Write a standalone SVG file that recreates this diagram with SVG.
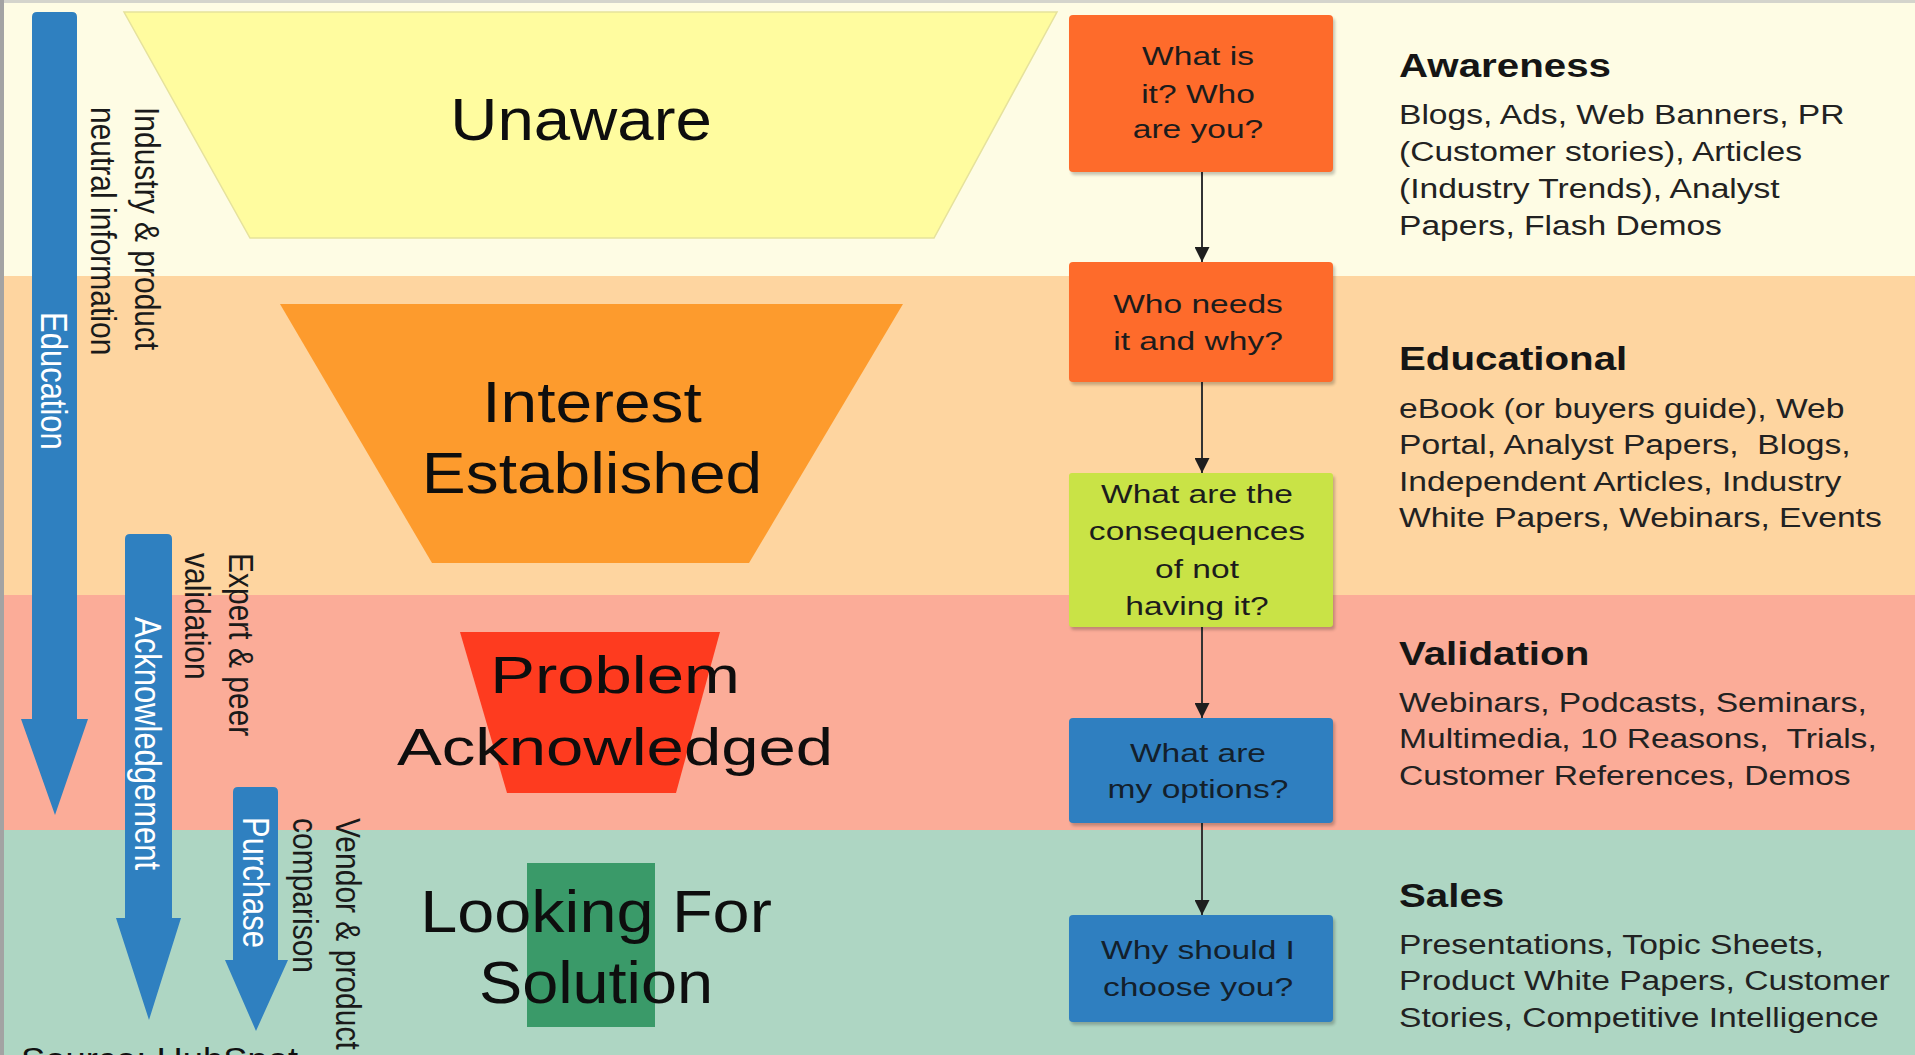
<svg xmlns="http://www.w3.org/2000/svg" width="1915" height="1055" viewBox="0 0 1915 1055">
  <defs>
    <style>
      text { font-family: "Liberation Sans", Arial, sans-serif; }
      .stage { fill: #0e0e0e; text-anchor: middle; }
      .q { font-size: 25.6px; fill: #1c1c1c; text-anchor: middle; }
      .qb { font-size: 25.6px; fill: #13202c; text-anchor: middle; }
      .head { font-size: 32.5px; font-weight: bold; fill: #151515; }
      .body { font-size: 28px; fill: #222222; }
      .side { font-size: 30px; fill: #1a1a1a; }
      .flow { font-size: 31px; fill: #ffffff; }
      .box { stroke: none; }
      .shadow { fill: #000000; opacity: 0.22; filter: url(#soft); }
      .conn { stroke: #333333; stroke-width: 2; fill: none; marker-end: url(#tip); }
      .bigarrow { fill: #2F80C0; }
    </style>
    <filter id="soft" x="-10%" y="-10%" width="120%" height="130%">
      <feGaussianBlur stdDeviation="1.5"/>
    </filter>
    <marker id="tip" viewBox="0 0 15 15" refX="15" refY="7.5" markerWidth="15" markerHeight="15" markerUnits="userSpaceOnUse" orient="auto">
      <path d="M0,0 L15,7.5 L0,15 Z" fill="#1e1e1e"/>
    </marker>
  </defs>

  <!-- stage bands -->
  <g id="bands">
    <rect x="0" y="0" width="1915" height="276" fill="#FEFCE4"/>
    <rect x="0" y="276" width="1915" height="319" fill="#FED5A0"/>
    <rect x="0" y="595" width="1915" height="235" fill="#FBAC98"/>
    <rect x="0" y="830" width="1915" height="225" fill="#AED6C3"/>
    <rect x="0" y="0" width="1915" height="3" fill="#D4D4CC"/>
    <rect x="0" y="0" width="4" height="1055" fill="#A3A3A3"/>
  </g>

  <!-- funnel stages -->
  <g id="stage-unaware">
    <polygon points="124,12 1057,12 934,238 250,238" fill="#FFFC9F" stroke="#E6E29C" stroke-width="1.5"/>
    <text class="stage" font-size="60" transform="translate(581,140) scale(1.09,1)">Unaware</text>
  </g>
  <g id="stage-interest">
    <polygon points="280,304 903,304 749,563 432,563" fill="#FD9B2D"/>
    <text class="stage" font-size="57" transform="translate(592,422) scale(1.155,1)">Interest</text>
    <text class="stage" font-size="57" transform="translate(592,493) scale(1.155,1)">Established</text>
  </g>
  <g id="stage-problem">
    <polygon points="460,632 720,632 676,793 507,793" fill="#FE3B1F"/>
    <text class="stage" font-size="52" transform="translate(615,693) scale(1.29,1)">Problem</text>
    <text class="stage" font-size="52" transform="translate(615,765) scale(1.29,1)">Acknowledged</text>
  </g>
  <g id="stage-looking">
    <rect x="527" y="863" width="128" height="164" fill="#3A9A69"/>
    <text class="stage" font-size="60" transform="translate(596,932) scale(1.11,1)">Looking For</text>
    <text class="stage" font-size="60" transform="translate(596,1003) scale(1.08,1)">Solution</text>
  </g>

  <!-- left-hand flow arrows -->
  <g id="flow-education">
    <path class="bigarrow" d="M32,17 Q32,12 37,12 L72,12 Q77,12 77,17 L77,719 L88,719 L55,815 L21,719 L32,719 Z"/>
    <text class="flow" transform="translate(41,312) scale(1.22,1) rotate(90)">Education</text>
  </g>
  <g id="flow-acknowledgement">
    <path class="bigarrow" d="M125,539 Q125,534 130,534 L167,534 Q172,534 172,539 L172,918 L181,918 L149,1020 L116,918 L125,918 Z"/>
    <text class="flow" transform="translate(135,617) scale(1.22,1) rotate(90)">Acknowledgement</text>
  </g>
  <g id="flow-purchase">
    <path class="bigarrow" d="M233,792 Q233,787 238,787 L273,787 Q278,787 278,792 L278,960 L288,960 L256,1031 L225,960 L233,960 Z"/>
    <text class="flow" transform="translate(243,817) scale(1.22,1) rotate(90)">Purchase</text>
  </g>

  <!-- side notes -->
  <g id="note-industry">
    <text class="side" transform="translate(135,107) scale(1.18,1) rotate(90)">Industry &amp; product</text>
    <text class="side" transform="translate(91,107) scale(1.18,1) rotate(90)">neutral information</text>
  </g>
  <g id="note-expert">
    <text class="side" transform="translate(229,553) scale(1.18,1) rotate(90)">Expert &amp; peer</text>
    <text class="side" transform="translate(185,553) scale(1.18,1) rotate(90)">validation</text>
  </g>
  <g id="note-vendor">
    <text class="side" transform="translate(336,818) scale(1.18,1) rotate(90)">Vendor &amp; product</text>
    <text class="side" transform="translate(293,818) scale(1.18,1) rotate(90)">comparison</text>
  </g>

  <!-- connectors between questions -->
  <g id="connectors">
    <line class="conn" x1="1202" y1="172" x2="1202" y2="262"/>
    <line class="conn" x1="1202" y1="382" x2="1202" y2="473"/>
    <line class="conn" x1="1202" y1="627" x2="1202" y2="718"/>
    <line class="conn" x1="1202" y1="823" x2="1202" y2="915"/>
  </g>

  <!-- buyer questions -->
  <g id="q-what-is-it">
    <rect class="shadow" x="1071" y="18" width="264" height="157" rx="4"/>
    <rect class="box" x="1069" y="15" width="264" height="157" rx="4" fill="#FE6B2B"/>
    <text class="q" transform="translate(1198,65) scale(1.31,1)">What is</text>
    <text class="q" transform="translate(1198,103) scale(1.31,1)">it? Who</text>
    <text class="q" transform="translate(1198,138) scale(1.31,1)">are you?</text>
  </g>
  <g id="q-who-needs">
    <rect class="shadow" x="1071" y="265" width="264" height="120" rx="4"/>
    <rect class="box" x="1069" y="262" width="264" height="120" rx="4" fill="#FE6B2B"/>
    <text class="q" transform="translate(1198,313) scale(1.31,1)">Who needs</text>
    <text class="q" transform="translate(1198,350) scale(1.31,1)">it and why?</text>
  </g>
  <g id="q-consequences">
    <rect class="shadow" x="1071" y="476" width="264" height="154" rx="3"/>
    <rect class="box" x="1069" y="473" width="264" height="154" rx="3" fill="#C9E346"/>
    <text class="q" transform="translate(1197,503) scale(1.31,1)">What are the</text>
    <text class="q" transform="translate(1197,540) scale(1.31,1)">consequences</text>
    <text class="q" transform="translate(1197,578) scale(1.31,1)">of not</text>
    <text class="q" transform="translate(1197,615) scale(1.31,1)">having it?</text>
  </g>
  <g id="q-options">
    <rect class="shadow" x="1071" y="721" width="264" height="105" rx="4"/>
    <rect class="box" x="1069" y="718" width="264" height="105" rx="4" fill="#2F7FC0"/>
    <text class="qb" transform="translate(1198,762) scale(1.31,1)">What are</text>
    <text class="qb" transform="translate(1198,798) scale(1.31,1)">my options?</text>
  </g>
  <g id="q-choose-you">
    <rect class="shadow" x="1071" y="918" width="264" height="107" rx="4"/>
    <rect class="box" x="1069" y="915" width="264" height="107" rx="4" fill="#2F7FC0"/>
    <text class="qb" transform="translate(1198,959) scale(1.31,1)">Why should I</text>
    <text class="qb" transform="translate(1198,996) scale(1.31,1)">choose you?</text>
  </g>

  <!-- content types per stage -->
  <g id="content-awareness">
    <text class="head" transform="translate(1399,77) scale(1.24,1)">Awareness</text>
    <text class="body" transform="translate(1399,124) scale(1.2,1)">Blogs, Ads, Web Banners, PR</text>
    <text class="body" transform="translate(1399,161) scale(1.2,1)">(Customer stories), Articles</text>
    <text class="body" transform="translate(1399,198) scale(1.2,1)">(Industry Trends), Analyst</text>
    <text class="body" transform="translate(1399,235) scale(1.2,1)">Papers, Flash Demos</text>
  </g>
  <g id="content-educational">
    <text class="head" transform="translate(1399,370) scale(1.24,1)">Educational</text>
    <text class="body" transform="translate(1399,418) scale(1.2,1)">eBook (or buyers guide), Web</text>
    <text class="body" xml:space="preserve" transform="translate(1399,454) scale(1.2,1)">Portal, Analyst Papers,  Blogs,</text>
    <text class="body" transform="translate(1399,491) scale(1.2,1)">Independent Articles, Industry</text>
    <text class="body" transform="translate(1399,527) scale(1.2,1)">White Papers, Webinars, Events</text>
  </g>
  <g id="content-validation">
    <text class="head" transform="translate(1399,665) scale(1.24,1)">Validation</text>
    <text class="body" transform="translate(1399,712) scale(1.2,1)">Webinars, Podcasts, Seminars,</text>
    <text class="body" xml:space="preserve" transform="translate(1399,748) scale(1.2,1)">Multimedia, 10 Reasons,  Trials,</text>
    <text class="body" transform="translate(1399,785) scale(1.2,1)">Customer References, Demos</text>
  </g>
  <g id="content-sales">
    <text class="head" transform="translate(1399,907) scale(1.24,1)">Sales</text>
    <text class="body" transform="translate(1399,954) scale(1.2,1)">Presentations, Topic Sheets,</text>
    <text class="body" transform="translate(1399,990) scale(1.2,1)">Product White Papers, Customer</text>
    <text class="body" transform="translate(1399,1027) scale(1.2,1)">Stories, Competitive Intelligence</text>
  </g>

  <!-- attribution, partly below the lower edge -->
  <text font-size="34" fill="#111111" transform="translate(21,1071) scale(1.07,1)">Source: HubSpot</text>
</svg>
